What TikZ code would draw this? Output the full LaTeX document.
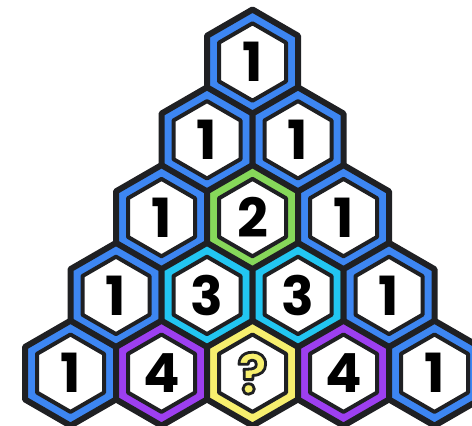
\documentclass[tikz,border=0pt]{standalone}
\usepackage{fontspec}
\setmainfont{Poppins}
\usepackage{tikz}
\definecolor{ink}{HTML}{1F2023}
\definecolor{hexblue}{HTML}{3D86F2}
\definecolor{hexgreen}{HTML}{86D85A}
\definecolor{hexcyan}{HTML}{22C6F2}
\definecolor{hexpurple}{HTML}{9D3FF0}
\definecolor{hexyellow}{HTML}{F7EF6E}
% outlined text: yellow fill, dark stroke
\newcommand\outlined[1]{\special{pdf:literal q 2 Tr 2.8 w 1 j 0.12 0.125 0.137 RG}#1\special{pdf:literal Q}}

\begin{document}
\begin{tikzpicture}[
  x=1pt,y=-1pt,
  rim/.style={draw=ink,line width=6pt,line join=round},
  core/.style={draw=ink,fill=white,line width=4pt,line join=round},
  digit/.style={font=\fontsize{54}{54}\selectfont\bfseries,text=black,inner sep=0pt},
]
\useasboundingbox (0,0) rectangle (472,426);
\clip (0,0) rectangle (472,426);

% rows of cells: row/position/colour/label
\foreach \r/\k/\c/\t in {0/0/hexblue/1,
    1/0/hexblue/1, 1/1/hexblue/1,
    2/0/hexblue/1, 2/1/hexgreen/2, 2/2/hexblue/1,
    3/0/hexblue/1, 3/1/hexcyan/3, 3/2/hexcyan/3, 3/3/hexblue/1,
    4/0/hexblue/1, 4/1/hexpurple/4, 4/2/hexyellow/, 4/3/hexpurple/4, 4/4/hexblue/1} {
  \coordinate (c\r\k) at ({252.5+(\k-\r/2)*91},{62+\r*77.8});
  \draw[rim,fill=\c] (c\r\k) +(0,-52.5) -- +(45.5,-26.25) -- +(45.5,26.25)
    -- +(0,52.5) -- +(-45.5,26.25) -- +(-45.5,-26.25) -- cycle;
  \draw[core] (c\r\k) +(0,-38.7) -- +(33.5,-19.35) -- +(33.5,19.35)
    -- +(0,38.7) -- +(-33.5,19.35) -- +(-33.5,-19.35) -- cycle;
  \node[digit] (n\r\k) at (c\r\k) {\t};
}

% the unknown cell
\node[digit,text=hexyellow,font=\fontsize{56}{56}\selectfont\bfseries] (q42) at (c42) {\outlined{?}};
\end{tikzpicture}
\end{document}
